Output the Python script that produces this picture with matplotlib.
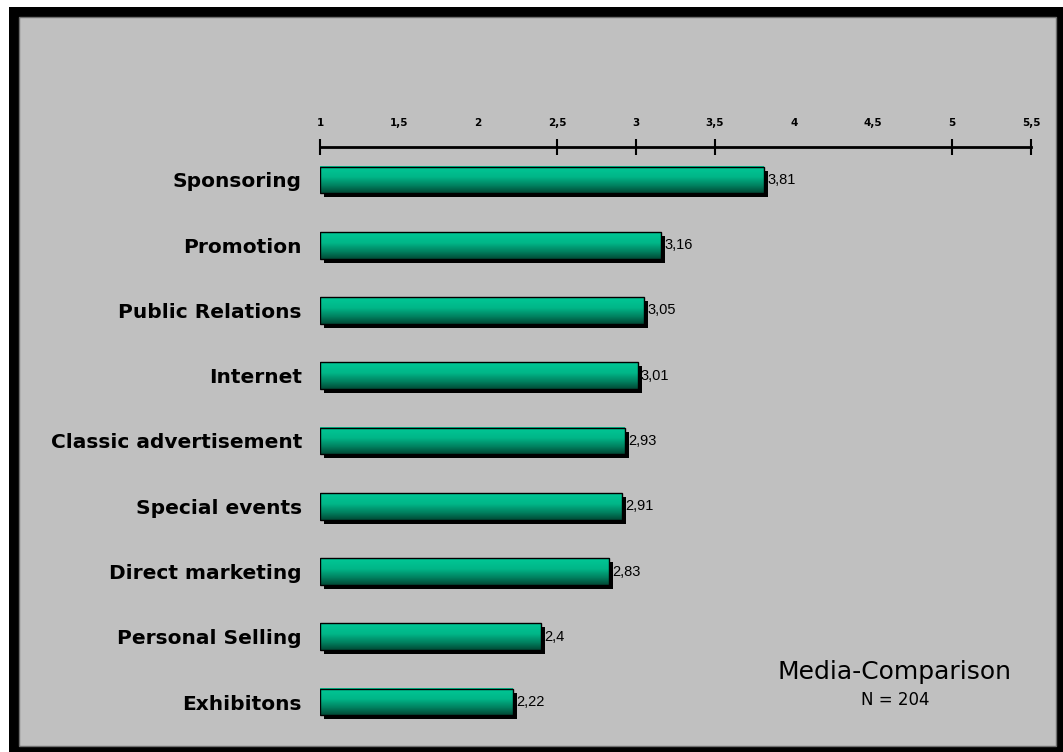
import numpy as np
import matplotlib
matplotlib.use("Agg")
import matplotlib.pyplot as plt
from matplotlib.patches import Rectangle
from matplotlib.colors import LinearSegmentedColormap
import matplotlib.transforms as mtransforms

categories = ["Sponsoring", "Promotion", "Public Relations", "Internet",
              "Classic advertisement", "Special events", "Direct marketing",
              "Personal Selling", "Exhibitons"]
values = [3.81, 3.16, 3.05, 3.01, 2.93, 2.91, 2.83, 2.4, 2.22]
value_labels = ["3,81", "3,16", "3,05", "3,01", "2,93", "2,91", "2,83", "2,4", "2,22"]
tick_values = [1, 1.5, 2, 2.5, 3, 3.5, 4, 4.5, 5, 5.5]
tick_labels = ["1", "1,5", "2", "2,5", "3", "3,5", "4", "4,5", "5", "5,5"]
marked_ticks = [1, 2.5, 3, 3.5, 5, 5.5]

W, H = 1063, 752
fig = plt.figure(figsize=(W / 100, H / 100), dpi=100, facecolor="white")

# frame: black border with grey panel (behind the axes)
fig.patches.append(Rectangle((9 / W, 0), (W - 9) / W, (H - 7) / H,
                             transform=fig.transFigure, facecolor="black",
                             edgecolor="none", zorder=-3))
fig.patches.append(Rectangle((19 / W, (H - 746) / H), (1056 - 19) / W, (746 - 17) / H,
                             transform=fig.transFigure, facecolor="#c0c0c0",
                             edgecolor="#707070", linewidth=1, zorder=-2))

ax = fig.add_axes([320 / W, (H - 735) / H, (1031 - 320) / W, (735 - 147) / H])
ax.patch.set_alpha(0)

cmap = LinearSegmentedColormap.from_list(
    "teal", [(0, "#00c896"), (0.4, "#00b688"), (0.75, "#007c5c"), (1, "#004a36")])
grad = np.linspace(0, 1, 64).reshape(-1, 1)

bh = 0.41
y = np.arange(len(categories))
shadow = mtransforms.offset_copy(ax.transData, fig=fig, x=4, y=-4, units="dots")
ax.barh(y, np.array(values) - 1, left=1, height=bh, color="black",
        transform=shadow, zorder=1)
for yi, v in zip(y, values):
    ax.imshow(grad, cmap=cmap, aspect="auto", extent=[1, v, yi + bh / 2, yi - bh / 2],
              zorder=2, interpolation="bilinear")
ax.barh(y, np.array(values) - 1, left=1, height=bh, facecolor="none",
        edgecolor="black", linewidth=1.0, zorder=3)

for yi, v, lab in zip(y, values, value_labels):
    ax.text(v + 0.02, yi, lab, va="center", ha="left", fontsize=10.5,
            family="Liberation Sans", color="black", zorder=4)

ax.set_xlim(1, 5.5)
ax.set_ylim(8.505, -0.505)
ax.set_yticks(y)
ax.set_yticklabels(categories, fontsize=14.5, fontweight="bold", family="DejaVu Sans")
ax.tick_params(axis="y", length=0, pad=13)

ax.xaxis.tick_top()
ax.xaxis.remove_overlapping_locs = False
ax.set_xticks(tick_values)
ax.set_xticklabels(tick_labels, fontsize=7.5, fontweight="bold")
ax.tick_params(axis="x", which="major", length=0, pad=14)
ax.set_xticks(marked_ticks, minor=True)
ax.tick_params(axis="x", which="minor", direction="inout", length=12, width=1.5,
               top=True, bottom=False, labeltop=False, labelbottom=False)
for s in ["left", "right", "bottom"]:
    ax.spines[s].set_visible(False)
ax.spines["top"].set_linewidth(2)

fig.text(895 / W, (H - 672) / H, "Media-Comparison", ha="center", va="center",
         fontsize=18, family="DejaVu Sans", fontweight="medium")
fig.text(895 / W, (H - 700) / H, "N = 204", ha="center", va="center",
         fontsize=12, family="DejaVu Sans")

fig.savefig("out.png", dpi=100, facecolor="white")
